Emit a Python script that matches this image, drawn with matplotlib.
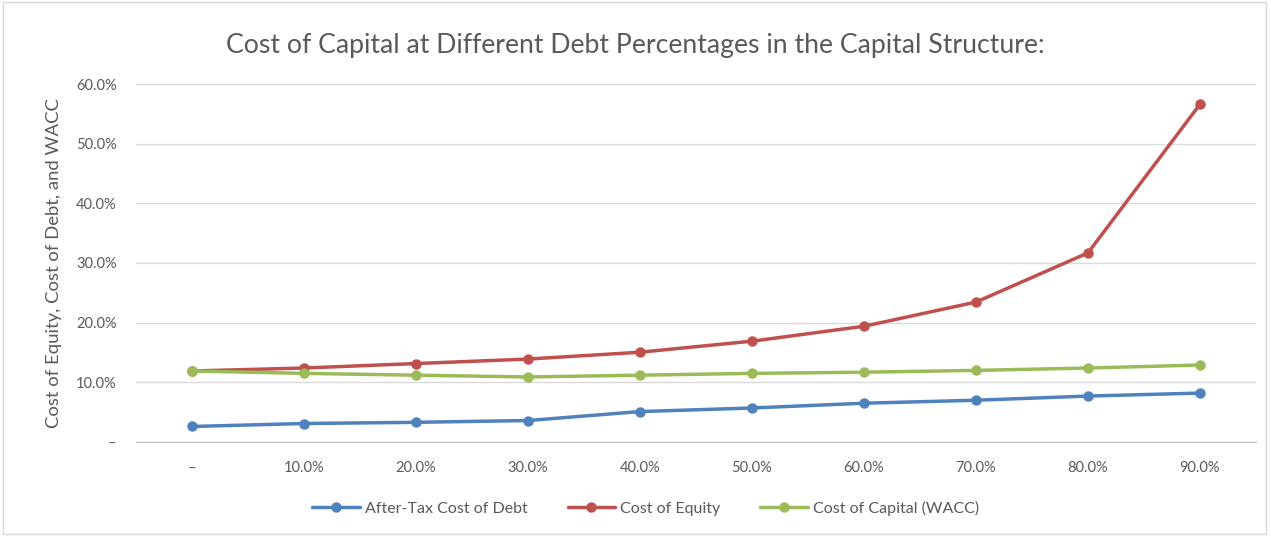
import matplotlib.pyplot as plt
from matplotlib.patches import Rectangle
from matplotlib.ticker import FuncFormatter

plt.rcParams['font.family'] = ['Lato', 'DejaVu Sans']

debt_pct = [0, 10, 20, 30, 40, 50, 60, 70, 80, 90]
after_tax_debt = [2.6, 3.1, 3.3, 3.6, 5.1, 5.7, 6.5, 7.0, 7.7, 8.2]
cost_equity = [11.9, 12.4, 13.15, 13.9, 15.05, 16.9, 19.4, 23.45, 31.7, 56.6]
wacc = [11.9, 11.5, 11.2, 10.9, 11.2, 11.5, 11.7, 12.0, 12.4, 12.9]

series = {
    'After-Tax Cost of Debt': (after_tax_debt, '#4F81BD'),
    'Cost of Equity': (cost_equity, '#C0504D'),
    'Cost of Capital (WACC)': (wacc, '#9BBB59'),
}

def pct(v, pos=None):
    return '–' if abs(v) < 1e-9 else f'{v:.1f}%'

fig = plt.figure(figsize=(12.71, 5.36), dpi=100)
ax = fig.add_axes([136 / 1271, 1 - 442 / 536, 1120 / 1271, 358 / 536])

x = list(range(len(debt_pct)))
for name, (vals, col) in series.items():
    ax.plot(x, vals, color=col, lw=2.5, marker='o', ms=6.5, label=name,
            solid_capstyle='round')

ax.set_xlim(-0.5, len(x) - 0.5)
ax.set_ylim(0, 60)
ax.set_yticks(range(0, 61, 10))
ax.yaxis.set_major_formatter(FuncFormatter(pct))
ax.set_xticks(x)
ax.set_xticklabels([pct(d) for d in debt_pct])
ax.tick_params(length=0, labelsize=10.5, colors='#595959')
ax.tick_params(axis='x', pad=14)
ax.tick_params(axis='y', pad=14)
ax.grid(axis='y', color='#d9d9d9', lw=1)
ax.set_axisbelow(True)
for s in ['top', 'right', 'left']:
    ax.spines[s].set_visible(False)
ax.spines['bottom'].set_color('#bfbfbf')

ax.set_ylabel('Cost of Equity, Cost of Debt, and WACC', fontsize=13.3,
              color='#595959', labelpad=10)
fig.text(0.5, 1 - 45 / 536, 'Cost of Capital at Different Debt Percentages in the Capital Structure:',
         ha='center', va='center', fontsize=19.2, color='#595959')

fig.legend(loc='center', bbox_to_anchor=(0.508, 1 - 508 / 536), ncol=3,
           frameon=False, fontsize=11.5, labelcolor='#595959',
           handlelength=3, columnspacing=2.5, handletextpad=0.3)

fig.patches.append(Rectangle((0.002, 0.004), 0.994, 0.992, transform=fig.transFigure,
                             fill=False, edgecolor='#d9d9d9', lw=1))

fig.savefig('out.png', dpi=100, facecolor='white')
